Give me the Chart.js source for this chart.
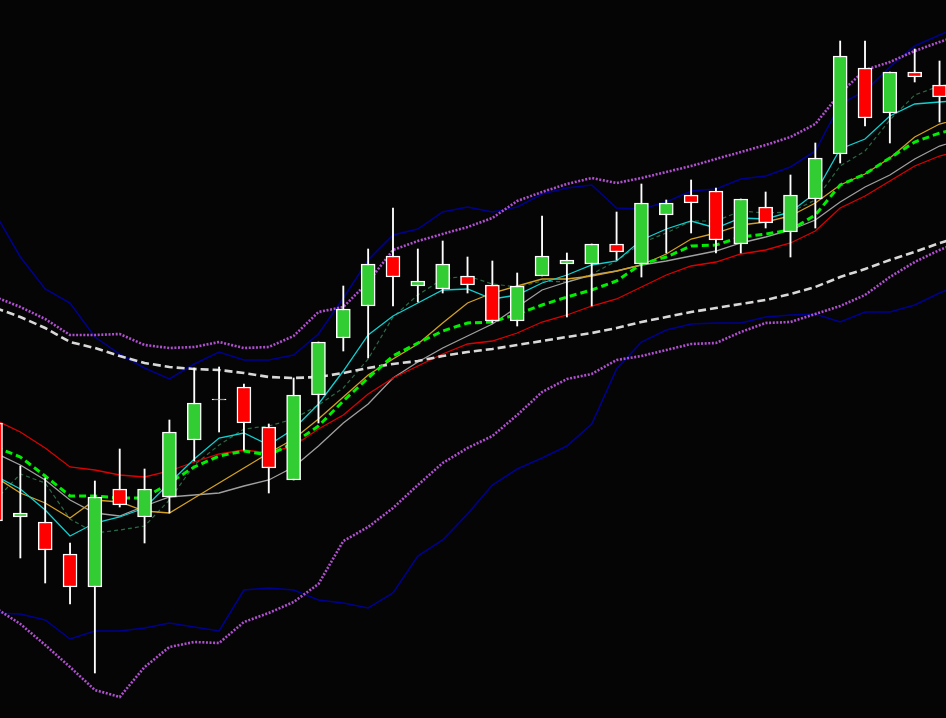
<!DOCTYPE html>
<html>
<head>
<meta charset="utf-8">
<script src="https://cdn.jsdelivr.net/npm/chart.js@4/dist/chart.umd.min.js"></script>
<style>
  html, body { margin: 0; padding: 0; background: #050505; overflow: hidden; }
  #wrap { width: 946px; height: 718px; background: #050505; }
  canvas { display: block; }
</style>
</head>
<body>
<div id="wrap"><canvas id="c" width="946" height="718"></canvas></div>
<script>
// Values are chart levels (level axis runs top -> bottom).
// Candles, bar index 0..38
const opens  = [423,517,522,554,587,489,517,497,440,400,387,427,480,395,338,306,256,286,289,276,285,321,276,264,264,244,264,215,195,191,244,207,232,199,154, 68,113, 72, 85];
const highs  = [415,466,478,543,481,449,469,420,368,367,384,424,378,342,286,249,208,249,241,257,261,273,216,253,244,212,184,200,180,188,199,192,175,143, 41, 41, 72, 49, 61];
const lows   = [530,558,583,604,673,507,543,513,461,432,450,493,480,423,351,358,306,302,293,293,323,326,276,317,306,260,277,253,233,253,253,228,257,228,163,126,143, 82,122];
const closes = [521,513,550,587,497,505,489,432,403,399,423,468,395,342,309,264,277,281,264,285,321,286,256,260,244,252,203,203,203,240,199,223,195,158, 56,118, 72, 77, 97];

// Overlay lines, bar index 0..39
const navyUpper   = [214,257,289,303,337,354,368,379,364,352,360,360,355,334,298,260,235,229,212,207,212,207,194,188,185,208,209,202,191,189,179,176,167,151,104, 91, 67, 46, 35, 25];
const navyLower   = [613,614,620,639,631,631,628,623,627,631,590,588,590,600,603,608,593,556,540,514,485,469,458,446,424,369,342,330,324,323,323,317,315,314,322,312,312,305,293,283];
const purpleUpper = [297,307,319,335,335,334,345,348,347,342,348,347,336,312,307,282,250,241,234,227,218,201,192,184,178,183,178,172,166,159,152,145,137,124, 93, 70, 62, 51, 42, 34];
const purpleLower = [608,624,645,667,690,697,667,647,642,643,622,613,602,584,541,527,508,485,463,448,436,415,392,379,374,360,356,350,344,343,332,323,322,314,306,295,277,262,250,240];
const maWhite     = [308,317,328,342,348,356,363,367,369,370,373,377,378,377,373,368,364,361,356,352,349,345,341,337,333,328,322,317,312,308,304,300,294,287,277,269,260,252,243,236];
const maGreen     = [447,457,476,496,496,498,498,483,467,456,451,455,443,426,401,378,356,343,331,323,322,314,305,297,290,281,264,257,246,245,237,234,230,215,185,174,158,142,133,127];
const maRed       = [420,432,448,467,470,475,477,471,462,454,450,453,446,429,415,394,378,366,354,344,341,333,322,315,306,299,287,275,266,262,254,250,243,231,208,196,181,166,156,150];
const maGray      = [453,465,480,500,513,516,506,497,495,493,486,480,467,446,423,404,378,362,348,336,324,307,290,282,275,271,265,261,256,251,243,237,230,220,202,187,175,159,146,139];
const maOrange    = [477,493,503,518,500,502,511,513,498,483,468,453,439,419,397,375,359,344,323,303,293,286,279,279,276,271,265,254,239,233,225,222,216,203,185,174,158,137,124,118];
const maCyan      = [476,489,510,536,523,517,508,483,459,438,433,445,429,404,371,335,316,303,290,289,299,295,283,275,265,261,240,229,221,228,218,219,212,193,149,139,116,104,102,100];
const maDarkGreen = [500,474,483,519,533,530,526,500,465,445,429,426,419,405,388,359,317,295,279,276,284,287,281,282,274,261,243,233,221,221,211,213,212,200,166,151,120, 95, 86, 82];

const UP = '#32cd32', DOWN = '#ff0000';

const bodyData = opens.map((o, i) => ({ x: i, y: [o, closes[i]] }));
const bodyColors = opens.map((o, i) => closes[i] <= o ? UP : DOWN);
const wickData = highs.map((h, i) => ({ x: i, y: [lows[i], h] }));
const pts = arr => arr.map((v, i) => ({ x: i, y: v }));

function lineDs(label, arr, color, width, dash, order) {
  return {
    type: 'line', label, data: pts(arr),
    borderColor: color, borderWidth: width, borderDash: dash || [],
    pointRadius: 0, pointHoverRadius: 0, fill: false, tension: 0, order
  };
}

new Chart(document.getElementById('c'), {
  type: 'bar',
  data: {
    datasets: [
      { type: 'bar', label: 'bodies', data: bodyData, backgroundColor: bodyColors,
        borderColor: '#ffffff', borderWidth: 1.5, borderSkipped: false,
        barThickness: 14, grouped: false, order: 0 },
      { type: 'bar', label: 'wicks', data: wickData, backgroundColor: '#ffffff',
        borderWidth: 0, barThickness: 1.2, grouped: false, order: 1 },
      lineDs('maGreen', maGreen, '#00ee00', 3, [7, 4], 2),
      lineDs('maWhite', maWhite, '#d8d8d8', 2.6, [8, 4], 3),
      lineDs('purpleUpper', purpleUpper, '#b050d0', 2.6, [2, 1.6], 4),
      lineDs('purpleLower', purpleLower, '#b050d0', 2.6, [2, 1.6], 4),
      lineDs('maCyan', maCyan, '#10d0d0', 1.3, [], 5),
      lineDs('maOrange', maOrange, '#d4a020', 1.3, [], 6),
      lineDs('maRed', maRed, '#dd0000', 1.3, [], 6),
      lineDs('maGray', maGray, '#a0a0a0', 1.3, [], 6),
      lineDs('maDarkGreen', maDarkGreen, '#2a6a45', 1.2, [4, 3], 7),
      lineDs('navyUpper', navyUpper, '#000090', 1.5, [], 8),
      lineDs('navyLower', navyLower, '#000090', 1.5, [], 8)
    ]
  },
  options: {
    responsive: false,
    animation: false,
    events: [],
    layout: { padding: 0 },
    plugins: { legend: { display: false }, tooltip: { enabled: false } },
    scales: {
      x: { type: 'linear', min: 0.181, max: 38.26, offset: false, display: false },
      y: { type: 'linear', min: 0, max: 718, reverse: true, display: false }
    }
  }
});
</script>
</body>
</html>
